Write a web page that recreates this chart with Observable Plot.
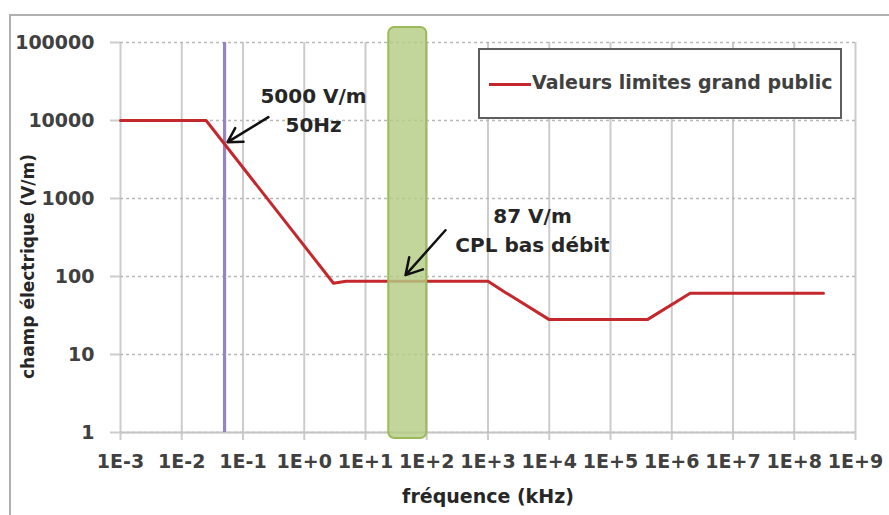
<!DOCTYPE html>
<html>
<head>
<meta charset="utf-8">
<script src="https://cdn.jsdelivr.net/npm/d3@7"></script>
<script src="https://cdn.jsdelivr.net/npm/@observablehq/plot@0.6"></script>
<style>
  html, body { margin: 0; padding: 0; background: #fff; }
  #wrap { position: relative; width: 889px; height: 515px; overflow: hidden; font-family: "DejaVu Sans", sans-serif; }
  #frame { position: absolute; left: 9px; top: 14px; width: 1000px; height: 1000px; border-top: 2px solid #b0b0b0; border-left: 2px solid #b0b0b0; }
  #chart { position: absolute; left: 0; top: 0; }
  #legend { position: absolute; left: 478px; top: 48px; width: 364px; height: 71px; box-sizing: border-box; border: 2px solid #5f5f5f; background: #fff; }
  #legend .swatch { position: absolute; left: 9px; top: 33px; width: 42px; height: 3px; background: #c4282d; }
  #legend .lab { position: absolute; left: 52px; top: 21px; font-size: 19px; font-weight: bold; color: #404040; white-space: nowrap; }
</style>
</head>
<body>
<div id="wrap">
  <div id="frame"></div>
  <div id="chart"></div>
  <div id="legend"><div class="swatch"></div><div class="lab">Valeurs limites grand public</div></div>
</div>
<script>
// Data
const freq  = [0.001, 0.025, 3, 4.8, 1000, 1890, 10000, 400000, 2000000, 300000000]; // kHz
const field = [10000, 10000, 82, 87, 87, 63, 28, 28, 61, 61];                          // V/m

const xTicks = [1e-3, 1e-2, 1e-1, 1e0, 1e1, 1e2, 1e3, 1e4, 1e5, 1e6, 1e7, 1e8, 1e9];
const xTickLabels = ["1E-3","1E-2","1E-1","1E+0","1E+1","1E+2","1E+3","1E+4","1E+5","1E+6","1E+7","1E+8","1E+9"];
const yTicks = [1, 10, 100, 1000, 10000, 100000];
const yTickLabels = ["1","10","100","1000","10000","100000"];

const markerFreq = [0.05];          // 50 Hz
const cplFrom = [24];               // CPL bas débit band (kHz)
const cplTo = [100];

const arrowFromX = [0.26, 202];
const arrowFromY = [11060, 392];
const arrowToX   = [0.056, 45];
const arrowToY   = [5280, 104];

const noteText = ["5000 V/m", "50Hz", "87 V/m", "CPL bas débit"];
const noteX    = [1.42, 1.42, 5330, 5330];
const noteY    = [16700, 7100, 482, 205];

const lineData = freq.map((f, i) => ({f, e: field[i]}));
const bandData = cplFrom.map((a, i) => ({from: a, to: cplTo[i]}));
const arrowData = arrowFromX.map((x, i) => ({x1: x, y1: arrowFromY[i], x2: arrowToX[i], y2: arrowToY[i]}));
const noteData = noteText.map((t, i) => ({t, x: noteX[i], y: noteY[i]}));

const chart = Plot.plot({
  width: 889,
  height: 515,
  marginLeft: 120,
  marginRight: 34,
  marginTop: 42,
  marginBottom: 83,
  style: {fontFamily: "DejaVu Sans", fontWeight: "bold", fontSize: "19px", color: "#404040", background: "transparent", overflow: "visible"},
  x: {type: "log", domain: [1e-3, 1e9]},
  y: {type: "log", domain: [1, 1e5]},
  marks: [
    Plot.gridX(xTicks, {stroke: "#cccccc", strokeOpacity: 1, strokeWidth: 2}),
    Plot.gridY(yTicks, {stroke: "#b8b8b8", strokeOpacity: 1, strokeWidth: 1.5, strokeDasharray: "3,3"}),
    Plot.axisX(xTicks, {tickSize: 8, tickPadding: 14, stroke: "#cccccc", strokeWidth: 2, label: null,
      tickFormat: d => xTickLabels[xTicks.indexOf(d)]}),
    Plot.axisY(yTicks, {tickSize: 10, tickPadding: 16, stroke: "#cccccc", strokeWidth: 2, label: null,
      tickFormat: d => yTickLabels[yTicks.indexOf(d)]}),
    Plot.ruleY([1], {stroke: "#c4c4c4", strokeWidth: 2}),
    Plot.ruleX(markerFreq, {stroke: "#9484c4", strokeWidth: 3.2}),
    Plot.line(lineData, {x: "f", y: "e", stroke: "#c4282d", strokeWidth: 3}),
    Plot.rect(bandData, {x1: "from", x2: "to", insetTop: -15, insetBottom: -6, rx: 6,
      fill: "#b5cd86", fillOpacity: 0.82, stroke: "#9bbb59", strokeWidth: 2}),
    Plot.arrow(arrowData, {x1: "x1", y1: "y1", x2: "x2", y2: "y2", stroke: "#111", strokeWidth: 2.5, headLength: 11}),
    Plot.text(noteData, {x: "x", y: "y", text: "t", textAnchor: "middle", lineAnchor: "bottom",
      fill: "#262626", fontSize: 20, fontWeight: "bold"}),
    Plot.text(["champ électrique (V/m)"], {frameAnchor: "left", rotate: -90, dx: -92, dy: 29,
      textAnchor: "middle", fill: "#262626", fontSize: 17, fontWeight: "bold", lineAnchor: "middle"}),
    Plot.text(["fréquence (kHz)"], {frameAnchor: "bottom", dy: 70, lineAnchor: "bottom",
      textAnchor: "middle", fill: "#262626", fontSize: 19, fontWeight: "bold"})
  ]
});
document.getElementById("chart").appendChild(chart);
</script>
</body>
</html>
